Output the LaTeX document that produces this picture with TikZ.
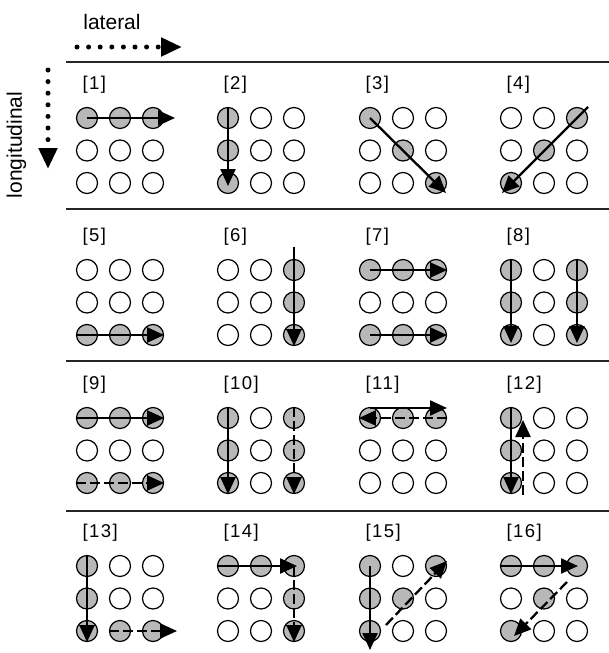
\documentclass[tikz,border=0pt]{standalone}
\usepackage{fontspec}
\setmainfont{Liberation Sans}
\newfontfamily\tagfont[LetterSpace=8]{Liberation Sans}
\usetikzlibrary{arrows.meta, calc}

\begin{document}
\begin{tikzpicture}[
    x=1pt, y=-1pt,
    cell/.style={circle, draw, line width=1.2pt, minimum size=21pt, inner sep=0pt},
    lit/.style={cell, fill=black!28},
    dim/.style={cell, fill=white},
    tag/.style={anchor=west, font=\tagfont\fontsize{18.5}{20}\selectfont},
    axis/.style={font=\fontsize{21}{24}\selectfont},
    mv/.style={line width=2.3pt, -{Triangle[length=17pt, width=15pt]}},
    lag/.style={mv, dash pattern=on 10pt off 4pt},
    dots/.style={line width=5pt, line cap=round, dash pattern=on 0pt off 11.6pt,
      -{Triangle[length=21pt, width=18pt]}},
    rule/.style={line width=1.3pt, black!85},
  ]
  \useasboundingbox (0,0) rectangle (609,653);
  % directions
  \node[axis] (lat) at (112,22) {lateral};
  \node[axis, rotate=90] (lon) at (16.5,145) {longitudinal};
  \coordinate (latS) at (77,47);
  \coordinate (latE) at (182,47);
  \coordinate (lonS) at (48,70);
  \coordinate (lonE) at (48,169);
  \draw[dots] (latS) -- (latE);
  \draw[dots] (lonS) -- (lonE);
  % separators
  \foreach \ry in {62,209,361,511}
    \draw[rule] (66,\ry) -- (609,\ry);
  % grids
  \foreach \p/\x/\y/\s in {
      1/87/118/{lit,lit,lit,dim,dim,dim,dim,dim,dim},
      2/228/118/{lit,dim,dim,lit,dim,dim,lit,dim,dim},
      3/370/118/{lit,dim,dim,dim,lit,dim,dim,dim,lit},
      4/511/118/{dim,dim,lit,dim,lit,dim,lit,dim,dim},
      5/87/270/{dim,dim,dim,dim,dim,dim,lit,lit,lit},
      6/228/270/{dim,dim,lit,dim,dim,lit,dim,dim,lit},
      7/370/270/{lit,lit,lit,dim,dim,dim,lit,lit,lit},
      8/511/270/{lit,dim,lit,lit,dim,lit,lit,dim,lit},
      9/87/418/{lit,lit,lit,dim,dim,dim,lit,lit,lit},
      10/228/418/{lit,dim,lit,lit,dim,lit,lit,dim,lit},
      11/370/418/{lit,lit,lit,dim,dim,dim,dim,dim,dim},
      12/511/418/{lit,dim,dim,lit,dim,dim,lit,dim,dim},
      13/87/566/{lit,dim,dim,lit,dim,dim,lit,lit,lit},
      14/228/566/{lit,lit,lit,dim,dim,lit,dim,dim,lit},
      15/370/566/{lit,dim,lit,lit,lit,dim,lit,dim,dim},
      16/511/566/{lit,lit,lit,dim,lit,dim,lit,dim,dim}}{
    \node[tag] (t\p) at (\x-8,\y-33) {[\p]};
    \foreach \f [count=\k from 0] in \s {
      \pgfmathtruncatemacro\r{div(\k,3)+1}
      \pgfmathtruncatemacro\c{mod(\k,3)+1}
      \node[\f] (g\p-\r-\c) at ({\x+33*(\c-1)},{\y+32.5*(\r-1)}) {};
    }
  }
  % row 1
  \draw[mv] (g1-1-1.center) -- ($(g1-1-3)+(22,0)$);
  \draw[mv] (g2-1-1.north) -- ($(g2-3-1)+(0,3)$);
  \draw[mv] (g3-1-1.center) -- ($(g3-3-3)+(10,10)$);
  \draw[mv] ($(g4-1-3)+(11,-11)$) -- ($(g4-3-1)+(-9,10)$);
  % row 2
  \draw[mv] (g5-3-1.west) -- (g5-3-3.east);
  \draw[mv] ($(g6-1-3)+(0,-23)$) -- (g6-3-3.south);
  \draw[mv] (g7-1-1.center) -- (g7-1-3.east);
  \draw[mv] (g7-3-1.center) -- (g7-3-3.east);
  \draw[mv] (g8-1-1.north) -- ($(g8-3-1)+(0,8)$);
  \draw[mv] (g8-1-3.north) -- ($(g8-3-3)+(0,8)$);
  % row 3
  \draw[mv] (g9-1-1.west) -- (g9-1-3.east);
  \draw[lag] (g9-3-1.west) -- (g9-3-3.east);
  \draw[mv] (g10-1-1.north) -- (g10-3-1.south);
  \draw[lag] (g10-1-3.north) -- (g10-3-3.south);
  \draw[mv] ($(g11-1-1)+(0,-10)$) -- ($(g11-1-3)+(11,-10)$);
  \draw[lag] (g11-1-3.east) -- (g11-1-1.west);
  \draw[mv] (g12-1-1.north) -- (g12-3-1.south);
  \draw[lag] ($(g12-3-1)+(12,12)$) -- ($(g12-1-1)+(12,2)$);
  % row 4
  \draw[mv] (g13-1-1.north) -- (g13-3-1.south);
  \draw[lag] (g13-3-2.west) -- ($(g13-3-3)+(24,0)$);
  \draw[mv] (g14-1-1.west) -- ($(g14-1-3)+(3,0)$);
  \draw[lag] (g14-1-3.center) -- (g14-3-3.south);
  \draw[mv] (g15-1-1.center) -- ($(g15-3-1)+(0,19)$);
  \draw[lag] ($(g15-3-1)+(16,-6)$) -- ($(g15-1-3)+(11,-5)$);
  \draw[mv] (g16-1-1.west) -- ($(g16-1-3)+(1,0)$);
  \draw[lag] ($(g16-1-3)+(-10,16)$) -- ($(g16-3-1)+(3,5)$);
\end{tikzpicture}
\end{document}
